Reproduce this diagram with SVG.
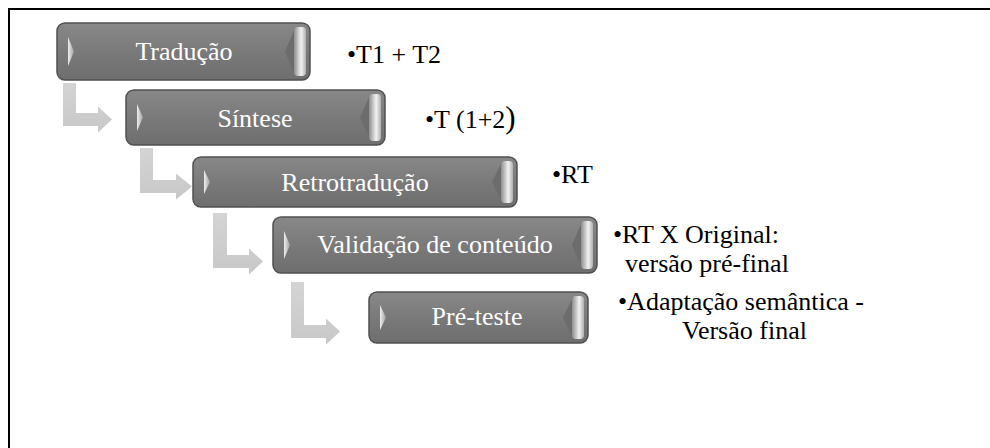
<svg xmlns="http://www.w3.org/2000/svg" width="990" height="448" viewBox="0 0 990 448">
<defs>
<linearGradient id="face" x1="0" y1="0" x2="0" y2="1">
<stop offset="0" stop-color="#888888"/>
<stop offset="0.5" stop-color="#7a7a7a"/>
<stop offset="1" stop-color="#6e6e6e"/>
</linearGradient>
<linearGradient id="rbev" x1="0" y1="0" x2="1" y2="0">
<stop offset="0" stop-color="#8e8e8e"/>
<stop offset="0.6" stop-color="#f2f2f2"/>
<stop offset="1" stop-color="#b0b0b0"/>
</linearGradient>
<linearGradient id="lbev" x1="0" y1="0" x2="1" y2="0">
<stop offset="0" stop-color="#eeeeee"/>
<stop offset="1" stop-color="#a0a0a0"/>
</linearGradient>
<linearGradient id="arr" x1="0" y1="0" x2="0" y2="1">
<stop offset="0" stop-color="#d4d4d4"/>
<stop offset="1" stop-color="#c8c8c8"/>
</linearGradient>
</defs>
<style>
.box{fill:url(#face);stroke:#505050;stroke-width:1.5}
.rdark{fill:#6c6c6c}
.rb{fill:url(#rbev)}
.lb{fill:url(#lbev)}
.lbl{font-size:26px;fill:#fff;text-anchor:middle}
.note{font-size:26px;fill:#000}
.con{fill:url(#arr)}
</style>
<rect x="9" y="9" width="1000" height="460" fill="none" stroke="#000" stroke-width="2"/>

<g id="connectors">
<path class="con" d="M63,83 H76 V113 H98 V106.5 L112,119.5 L98,132.5 V126 H63 Z"/>
<path class="con" d="M140,148 H153 V180 H176 V173.5 L192,186.5 L176,199.5 V193 H140 Z"/>
<path class="con" d="M213,213 H227 V255 H249 V248.5 L263,261.5 L249,274.5 V268 H213 Z"/>
<path class="con" d="M291,282 H304 V325 H326 V318.5 L340,331.5 L326,344.5 V338 H291 Z"/>
</g>

<g font-family="Liberation Serif, Tinos, Times New Roman, DejaVu Serif, serif">
<g id="n1">
<rect class="box" x="57" y="23" width="253" height="57" rx="8"/>
<polygon class="rdark" points="295,28 285,51.5 295,75"/>
<rect class="rb" x="294" y="27" width="12" height="49" rx="4"/>
<polygon class="lb" points="68,37 74,51.5 68,66"/>
<text class="lbl" x="184" y="60">Tradução</text>
<text class="note" x="347" y="63">•T1 + T2</text>
</g>

<g id="n2">
<rect class="box" x="126" y="90" width="259" height="55" rx="8"/>
<polygon class="rdark" points="370,95 360,117.5 370,140"/>
<rect class="rb" x="369" y="94" width="12" height="47" rx="4"/>
<polygon class="lb" points="137,104 143,117.5 137,131"/>
<text class="lbl" x="255" y="127">Síntese</text>
<text class="note" x="425" y="128">•T (1+2<tspan font-size="31">)</tspan></text>
</g>

<g id="n3">
<rect class="box" x="193" y="157" width="324" height="50" rx="8"/>
<polygon class="rdark" points="502,162 492,182 502,202"/>
<rect class="rb" x="501" y="161" width="12" height="42" rx="4"/>
<polygon class="lb" points="204,170 210,182 204,194"/>
<text class="lbl" x="355" y="191">Retrotradução</text>
<text class="note" x="552" y="183">•RT</text>
</g>

<g id="n4">
<rect class="box" x="273" y="217" width="324" height="56" rx="8"/>
<polygon class="rdark" points="582,222 572,245 582,268"/>
<rect class="rb" x="581" y="221" width="12" height="48" rx="4"/>
<polygon class="lb" points="284,231 290,245 284,259"/>
<text class="lbl" x="435" y="253">Validação de conteúdo</text>
<text class="note" x="613" y="243">•RT X Original:</text>
<text class="note" x="625" y="272">versão pré-final</text>
</g>

<g id="n5">
<rect class="box" x="369" y="292" width="219" height="51" rx="8"/>
<polygon class="rdark" points="573,297 563,317.5 573,338"/>
<rect class="rb" x="572" y="296" width="12" height="43" rx="4"/>
<polygon class="lb" points="380,305 386,317.5 380,330"/>
<text class="lbl" x="477" y="325">Pré-teste</text>
<text class="note" x="618" y="310">•Adaptação semântica -</text>
<text class="note" x="682" y="339">Versão final</text>
</g>
</g>
</svg>
